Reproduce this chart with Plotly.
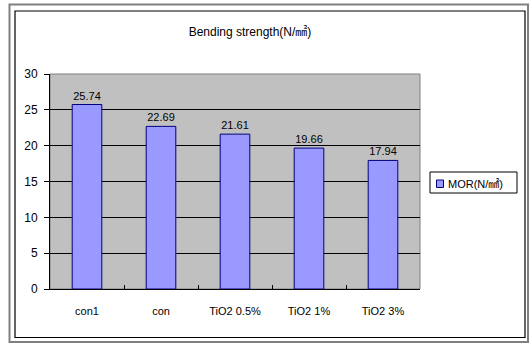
import plotly.graph_objects as go

categories = ["con1", "con", "TiO2 0.5%", "TiO2 1%", "TiO2 3%"]
mor_values = [25.74, 22.69, 21.61, 19.66, 17.94]
series_name = "MOR(N/㎟)"
title_text = "Bending strength(N/㎟)"
y_ticks = [0, 5, 10, 15, 20, 25, 30]

W, H = 529, 343
L, R, T, B = 50, 109, 74, 54
pw, ph = W - L - R, H - T - B

FONT = "Liberation Sans, Arial, Noto Sans CJK KR, sans-serif"
BAR_COLOR = "#9999FF"
BAR_LINE = "#000080"

fig = go.Figure()
fig.add_trace(go.Bar(
    x=categories, y=mor_values, name=series_name,
    marker=dict(color=BAR_COLOR, line=dict(color=BAR_LINE, width=1)),
    width=0.4,
    text=[f"{v:.2f}" for v in mor_values], textposition="outside",
    textfont=dict(size=11, color="black", family=FONT),
    cliponaxis=False, showlegend=False,
))

def px_x(p):
    return (p - L) / pw

def px_y(p):
    return (H - B - p) / ph

shapes = [
    dict(type="rect", xref="paper", yref="paper",
         x0=px_x(9.5), x1=px_x(528), y0=px_y(4.5), y1=px_y(342),
         line=dict(color="#808080", width=2)),
    dict(type="rect", xref="paper", yref="paper",
         x0=px_x(15), x1=px_x(525), y0=px_y(11), y1=px_y(337.5),
         line=dict(color="black", width=1.2)),
    # legend box
    dict(type="rect", xref="paper", yref="paper",
         x0=px_x(430), x1=px_x(517), y0=px_y(172), y1=px_y(193),
         line=dict(color="black", width=1), fillcolor="white"),
    # legend swatch
    dict(type="rect", xref="paper", yref="paper",
         x0=px_x(436.5), x1=px_x(443.5), y0=px_y(180), y1=px_y(187.5),
         line=dict(color=BAR_LINE, width=1), fillcolor=BAR_COLOR),
    # gray border of plot area
    dict(type="rect", xref="paper", yref="paper", x0=0, x1=1, y0=0, y1=1,
         line=dict(color="#808080", width=1), layer="below"),
]

annotations = [
    dict(text=series_name, xref="paper", yref="paper",
         x=px_x(445.5), y=px_y(183.5), xanchor="left", yanchor="middle",
         showarrow=False, font=dict(size=11, family=FONT, color="black")),
]

fig.update_layout(
    width=W, height=H,
    margin=dict(l=L, r=R, t=T, b=B),
    paper_bgcolor="white", plot_bgcolor="#C0C0C0",
    font=dict(family=FONT, size=11, color="black"),
    title=dict(text=title_text, x=250 / W, xanchor="center",
               y=1 - 32 / H, yanchor="middle", font=dict(size=12)),
    shapes=shapes,
    annotations=annotations,
    showlegend=False,
    xaxis=dict(showline=True, linecolor="black", linewidth=1,
               ticks="inside", tickson="boundaries", ticklen=4, tickcolor="black",
               ticklabelstandoff=12, showgrid=False,
               tickfont=dict(size=11)),
    yaxis=dict(range=[0, 30], tickvals=y_ticks, showline=True, linecolor="black",
               linewidth=1, ticks="outside", ticklen=5, tickcolor="black",
               showgrid=True, gridcolor="black", gridwidth=1,
               zeroline=False, ticklabelstandoff=4,
               tickfont=dict(size=12)),
)

fig.write_html("out.html")
